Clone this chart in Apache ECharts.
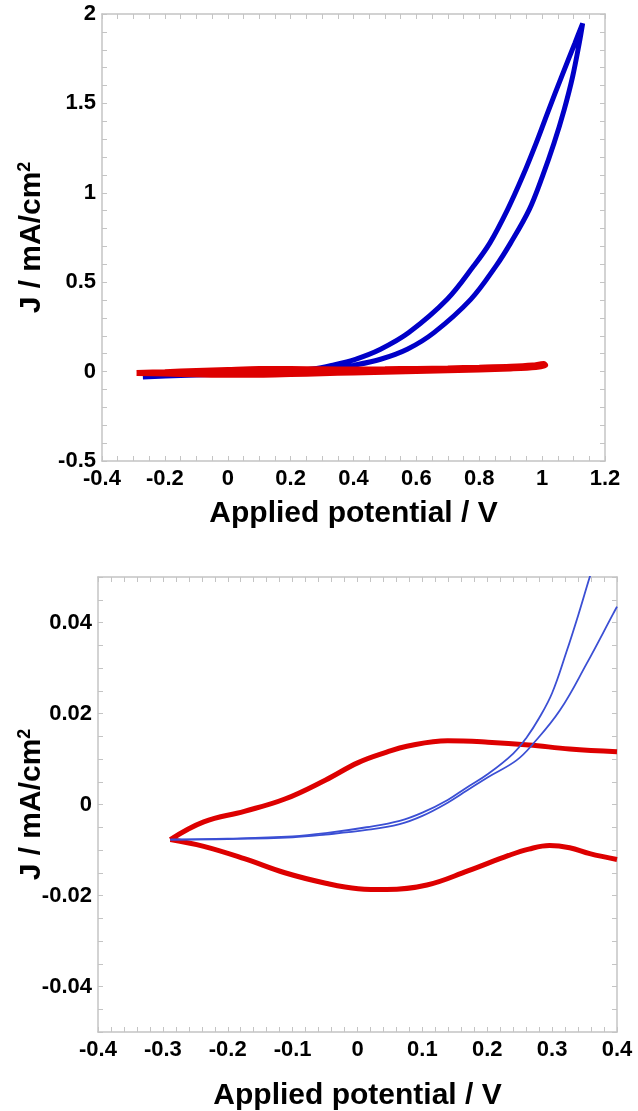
<!DOCTYPE html>
<html>
<head>
<meta charset="utf-8">
<script src="https://cdn.jsdelivr.net/npm/echarts@6/dist/echarts.min.js"></script>
<style>
html,body{margin:0;padding:0;background:#fff;}
#c{width:638px;height:1111px;}
</style>
</head>
<body>
<div id="c"></div>
<script>
// ---- Data ----
// Top panel: full CV scans [potential V, J mA/cm2]
var topBlue = [
  [-0.27,-0.030],[-0.15,-0.022],[0.0,-0.013],[0.1,-0.006],[0.2,-0.001],[0.26,0.003],
  [0.33,0.015],[0.40,0.035],[0.486,0.069],[0.571,0.125],[0.656,0.218],[0.773,0.404],
  [0.853,0.590],[0.900,0.720],[0.959,0.906],[1.001,1.092],[1.038,1.278],[1.070,1.464],
  [1.097,1.650],[1.118,1.836],[1.129,1.948],
  [1.104,1.836],[1.062,1.650],[1.021,1.464],[0.981,1.278],[0.938,1.092],[0.890,0.906],
  [0.834,0.720],[0.782,0.590],[0.698,0.404],[0.576,0.218],[0.486,0.125],[0.406,0.069],
  [0.33,0.035],[0.27,0.015],[0.2,0.004],[0.1,-0.004],[0.0,-0.010],[-0.15,-0.020],[-0.27,-0.028]
];
var topRed = [
  [-0.29,-0.008],[-0.2,-0.003],[-0.1,0.003],[0.0,0.009],[0.1,0.014],[0.2,0.014],
  [0.3,0.013],[0.4,0.012],[0.5,0.013],[0.6,0.015],[0.7,0.018],[0.8,0.022],[0.9,0.027],
  [0.97,0.034],[1.005,0.042],[1.01,0.036],[0.98,0.026],[0.9,0.018],[0.8,0.012],
  [0.6,0.003],[0.4,-0.005],[0.3,-0.009],[0.2,-0.014],[0.1,-0.018],[0.0,-0.018],
  [-0.1,-0.015],[-0.2,-0.011],[-0.29,-0.008]
];
// Bottom panel: zoom on low-current region
var botRedUpper = [
  [-0.2885,-0.0077],[-0.237,-0.0038],[-0.1745,-0.0015],[-0.112,0.0012],[-0.049,0.0054],
  [0.001,0.0092],[0.045,0.0115],[0.076,0.0128],[0.139,0.0140],[0.201,0.0137],
  [0.264,0.0131],[0.327,0.0122],[0.4,0.0116]
];
var botRedLower = [
  [-0.2885,-0.0077],[-0.237,-0.0092],[-0.1745,-0.0119],[-0.112,-0.0150],[-0.049,-0.0173],
  [0.001,-0.0185],[0.045,-0.0187],[0.107,-0.0177],[0.170,-0.0146],[0.233,-0.0112],
  [0.264,-0.0098],[0.296,-0.0090],[0.327,-0.0095],[0.358,-0.0108],[0.4,-0.0121]
];
var botBlueFwd = [
  [-0.2885,-0.0077],[-0.2,-0.0076],[-0.1,-0.0072],[-0.049,-0.0066],[0.014,-0.0056],
  [0.065,-0.0043],[0.1,-0.0025],[0.139,0.0004],[0.168,0.0030],[0.201,0.0060],
  [0.245,0.0097],[0.271,0.0134],[0.312,0.0207],[0.353,0.0309],[0.394,0.0419],[0.4,0.0435]
];
var botBlueRev = [
  [-0.2885,-0.0077],[-0.2,-0.0075],[-0.1,-0.0070],[-0.049,-0.0063],[0.014,-0.0050],
  [0.065,-0.0036],[0.1,-0.0018],[0.139,0.0010],[0.168,0.0037],[0.201,0.0067],
  [0.240,0.0112],[0.261,0.0148],[0.28,0.0190],[0.30,0.0245],[0.322,0.0335],
  [0.34,0.0415],[0.358,0.0500],[0.365,0.0530]
];
var xTitle = 'Applied potential / V';
var yTitle = '{a|J / mA/cm}{s|2}';

// ---- Chart ----
var FONT = '"Liberation Sans", Arial, sans-serif';
var AX = '#c4c4c4';
var chart = echarts.init(document.getElementById('c'), null, {renderer:'canvas'});

function fmt(v){ return String(parseFloat(v.toFixed(4))); }
function labelStyle(extra){
  var o = {fontFamily:FONT, fontWeight:'bold', fontSize:22, color:'#000', margin:6};
  for (var k in extra) o[k]=extra[k];
  return o;
}
function tickStyle(){ return {show:true, inside:true, length:5, lineStyle:{color:AX, width:1}}; }
function minor(n){ return {show:true, splitNumber:n, length:5, lineStyle:{color:AX, width:1}}; }
var nameStyleX = {fontFamily:FONT, fontWeight:'bold', fontSize:30, color:'#000'};
var nameStyleY = {fontFamily:FONT, fontWeight:'bold', fontSize:30, color:'#000',
  rich:{a:{fontFamily:FONT, fontWeight:'bold', fontSize:30, color:'#000'},
        s:{fontFamily:FONT, fontWeight:'bold', fontSize:18, color:'#000', padding:[0,0,14,0]}}};

function xAx(g, min, max, iv, mn, pos, show, gap){
  return {type:'value', gridIndex:g, min:min, max:max, interval:iv, position:pos,
    axisLine:{show:true, onZero:false, lineStyle:{color:AX, width:1.5}},
    axisTick:tickStyle(), minorTick:minor(mn), splitLine:{show:false},
    axisLabel: show ? labelStyle({formatter:fmt, margin:7}) : {show:false},
    name: show ? xTitle : '', nameLocation:'middle', nameGap:gap, nameMoveOverlap:false,
    nameTextStyle:nameStyleX};
}

var option = {
  animation:false,
  backgroundColor:'#fff',
  grid:[
    {left:102, top:14, width:503, height:447, show:false, containLabel:false, outerBoundsMode:'none'},
    {left:98, top:577, width:519, height:455, show:false, containLabel:false, outerBoundsMode:'none'}
  ],
  xAxis:[
    xAx(0,-0.4,1.2,0.2,4,'bottom',true,38),
    xAx(0,-0.4,1.2,0.2,4,'top',false,0),
    xAx(1,-0.4,0.4,0.1,5,'bottom',true,49),
    xAx(1,-0.4,0.4,0.1,5,'top',false,0)
  ],
  yAxis:[
    {type:'value', gridIndex:0, min:-0.5, max:2, interval:0.5, position:'left',
     axisLine:{show:true, onZero:false, lineStyle:{color:AX, width:1.5}},
     axisTick:tickStyle(), minorTick:minor(5), splitLine:{show:false},
     axisLabel:labelStyle({formatter:fmt}),
     name:yTitle, nameLocation:'middle', nameGap:54, nameMoveOverlap:false, nameRotate:90,
     nameTextStyle:nameStyleY},
    {type:'value', gridIndex:0, min:-0.5, max:2, interval:0.5, position:'right',
     axisLine:{show:true, onZero:false, lineStyle:{color:AX, width:1.5}},
     axisTick:tickStyle(), minorTick:minor(5), splitLine:{show:false}, axisLabel:{show:false}},
    {type:'value', gridIndex:1, min:-0.05, max:0.05, interval:0.005, position:'left',
     axisLine:{show:true, onZero:false, lineStyle:{color:AX, width:1.5}},
     axisTick:tickStyle(), splitLine:{show:false},
     axisLabel:labelStyle({interval:0, formatter:function(v){
        var r = Math.round(v/0.02);
        if (Math.abs(r*0.02 - v) < 1e-7 && Math.abs(v) < 0.045) return fmt(r*0.02);
        return '';
     }}),
     name:yTitle, nameLocation:'middle', nameGap:50, nameMoveOverlap:false, nameRotate:90,
     nameTextStyle:nameStyleY},
    {type:'value', gridIndex:1, min:-0.05, max:0.05, interval:0.005, position:'right',
     axisLine:{show:true, onZero:false, lineStyle:{color:AX, width:1.5}},
     axisTick:tickStyle(), splitLine:{show:false}, axisLabel:{show:false}}
  ],
  series:[
    {type:'line', xAxisIndex:0, yAxisIndex:0, data:topBlue, showSymbol:false, smooth:0.35,
     lineStyle:{color:'#0000c8', width:5}, z:2},
    {type:'line', xAxisIndex:0, yAxisIndex:0, data:topRed, showSymbol:false, smooth:0.3,
     lineStyle:{color:'#dd0000', width:6}, z:3},
    {type:'line', xAxisIndex:2, yAxisIndex:2, data:botRedUpper, showSymbol:false, smooth:0.4,
     lineStyle:{color:'#dd0000', width:5}, z:2},
    {type:'line', xAxisIndex:2, yAxisIndex:2, data:botRedLower, showSymbol:false, smooth:0.4,
     lineStyle:{color:'#dd0000', width:5}, z:2},
    {type:'line', xAxisIndex:2, yAxisIndex:2, data:botBlueFwd, showSymbol:false, smooth:0.4,
     lineStyle:{color:'#3b4fd4', width:1.8}, z:3},
    {type:'line', xAxisIndex:2, yAxisIndex:2, data:botBlueRev, showSymbol:false, smooth:0.4,
     lineStyle:{color:'#3b4fd4', width:1.8}, z:3}
  ]
};
chart.setOption(option);
</script>
</body>
</html>
